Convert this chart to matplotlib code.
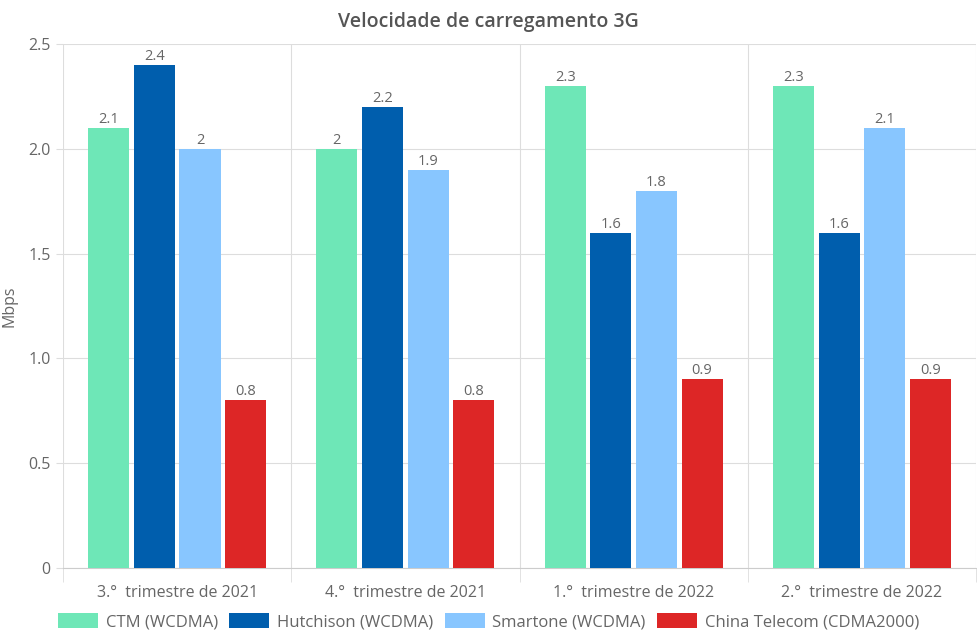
import matplotlib.pyplot as plt
import numpy as np

plt.rcParams['font.family'] = ['Open Sans', 'DejaVu Sans']

# Dados
trimestres = ['3.°  trimestre de 2021', '4.°  trimestre de 2021',
              '1.°  trimestre de 2022', '2.°  trimestre de 2022']
operadores = ['CTM (WCDMA)', 'Hutchison (WCDMA)', 'Smartone (WCDMA)', 'China Telecom (CDMA2000)']
ctm = [2.1, 2.0, 2.3, 2.3]
hutchison = [2.4, 2.2, 1.6, 1.6]
smartone = [2.0, 1.9, 1.8, 2.1]
china_telecom = [0.8, 0.8, 0.9, 0.9]
valores = [ctm, hutchison, smartone, china_telecom]
cores = ['#6EE7B7', '#005EAD', '#88C6FF', '#DD2626']

texto = '#666666'
grade = '#DDDDDD'

fig = plt.figure(figsize=(9.77, 6.38), dpi=100)
ax = fig.add_axes([0.0645, 0.1097, 0.9345, 0.8213])

x = np.arange(len(trimestres))
largura = 0.18
deslocs = [-0.3, -0.1, 0.1, 0.3]

for serie, nome, cor, dx in zip(valores, operadores, cores, deslocs):
    barras = ax.bar(x + dx, serie, largura, color=cor, label=nome, zorder=3)
    for b, v in zip(barras, serie):
        rot = f'{v:g}'
        ax.text(b.get_x() + b.get_width() / 2, v + 0.005, rot, ha='center', va='bottom',
                fontsize=10.5, color=texto, zorder=4)

ax.set_xlim(-0.5, len(trimestres) - 0.5)
ax.set_ylim(0, 2.5)
ax.set_yticks([0, 0.5, 1.0, 1.5, 2.0, 2.5])
ax.set_yticklabels(['0', '0.5', '1.0', '1.5', '2.0', '2.5'])
ax.set_xticks(x)
ax.set_xticklabels(trimestres)
ax.set_xticks(np.arange(-0.5, len(trimestres)), minor=True)

ax.grid(axis='y', color=grade, linewidth=0.8, zorder=0)
ax.grid(axis='x', which='minor', color=grade, linewidth=0.8, zorder=0)
ax.tick_params(axis='x', which='major', length=0, pad=12, labelsize=11.5, labelcolor=texto)
ax.tick_params(axis='x', which='minor', length=10, color=grade)
ax.tick_params(axis='y', length=5, color=grade, labelsize=11.5, labelcolor=texto, pad=4)

for lado in ['top', 'right']:
    ax.spines[lado].set_visible(False)
ax.spines['left'].set_visible(False)
ax.spines['bottom'].set_color('#CCCCCC')

ax.set_ylabel('Mbps', fontsize=11.5, color=texto, labelpad=8)
fig.text(0.5, 0.965, 'Velocidade de carregamento 3G', ha='center', va='center',
         fontsize=14, fontweight='semibold', color='#555555')

fig.legend(loc='lower center', bbox_to_anchor=(0.5, -0.012), ncol=4, frameon=False,
           fontsize=12, labelcolor=texto, handlelength=2.4, handleheight=1.0,
           handletextpad=0.45, columnspacing=0.7)

fig.savefig('out.png', dpi=100)
